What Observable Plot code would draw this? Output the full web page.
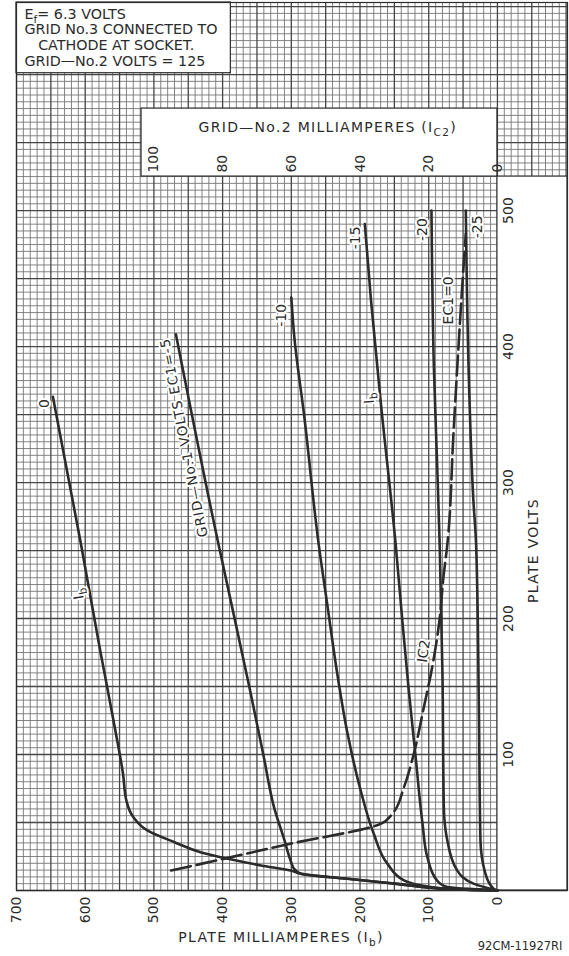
<!DOCTYPE html>
<html><head><meta charset="utf-8">
<script src="https://cdn.jsdelivr.net/npm/d3@7"></script>
<script src="https://cdn.jsdelivr.net/npm/@observablehq/plot@0.6"></script>
<style>
html,body{margin:0;padding:0;background:#fff;}
#chart svg text{font-family:"DejaVu Sans",sans-serif;}
</style></head>
<body><div id="chart"></div>
<script>
// ---- data: [plate volts, plate mA] ----
const ec1_0   = [[363,647],[257,607],[176,578],[120,557],[86,545],[66,540],[54,530],[44,509],[35.5,470],[28,431],[23.3,392],[18.4,344],[14.7,301],[12.3,286],[8.6,218],[4.9,146],[1.2,73],[0,0]];
const ec1_m5  = [[409,468],[257,407],[208,386],[147,360],[98,340],[61,325],[37,310],[22,301],[16,296],[12.3,286],[8.6,218],[4.9,146],[1.2,73],[0,0]];
const ec1_m10 = [[436,300],[409,296],[348,281],[254,260],[208,247],[159,233],[115,218],[73.5,199],[41.7,180],[19.6,160],[7.4,136],[3.5,108],[1.2,70],[0,0]];
const ec1_m15 = [[490,193],[434,184],[360,170],[254,148],[196,138],[147,129],[98,119],[49,109],[24.5,102],[7.4,88],[2.5,73],[0,0]];
const ec1_m20 = [[500,96],[385,92.5],[311,87.6],[254,84],[159,80],[61,78],[37,73],[14.7,58.5],[4.9,34],[0,0]];
const ec1_m25 = [[500,46],[385,42],[287,35],[254,31],[135,27],[37,24.7],[12.3,17.4],[1.2,5.3],[0,0]];
// grid-No.2 current for Ec1 = 0: [plate volts, Ic2 mA]
const ic2_ec1_0 = [[14.7,95],[24,78.4],[34,61],[49,34],[56.4,30.6],[76,27.2],[100,24.4],[135,21.4],[164,19],[196,17],[233,15.6],[254,14.6],[336,12.8],[397,11.4],[446,10.2],[483,9.2]];

const ibTicks   = [700,600,500,400,300,200,100,0];
const voltTicks = [100,200,300,400,500];
const ic2Ticks  = [100,80,60,40,20,0];
const infoLines = ["E_f= 6.3 VOLTS","GRID No.3 CONNECTED TO","\u00a0\u00a0\u00a0CATHODE AT SOCKET.","GRID—No.2 VOLTS = 125"];

// ---- layout ----
const IC2_SCALE = 5; // Ic2 axis: 100 mA aligns with Ib 500 mA
const series = [
  {grid:"0", pts:ec1_0},{grid:"-5", pts:ec1_m5},{grid:"-10", pts:ec1_m10},
  {grid:"-15", pts:ec1_m15},{grid:"-20", pts:ec1_m20},{grid:"-25", pts:ec1_m25}
];
const rows = series.flatMap(s => s.pts.map(([v, ib]) => ({v, ib, grid: s.grid})));

const curveLabels = [
  {label:"0", ib:659, v:358, angle:-90},
  {label:"-10", ib:314, v:423, angle:-90},
  {label:"-15", ib:206, v:480, angle:-90},
  {label:"-20", ib:109, v:486, angle:-90},
  {label:"-25", ib:29, v:488, angle:-90},
  {label:"I_b", ib:610, v:218, angle:-100},
  {label:"I_b", ib:187, v:362, angle:-95},
  {label:"EC1=0", ib:71, v:434, angle:-90},
  {label:"IC2", ib:107, v:176, angle:-82}
];
const longLabel = [{label:"GRID—No.1 VOLTS EC1=-5", ib:456, v:333, angle:-101}];

const infoBox  = {x1:700, x2:388, y1:601, y2:653};
const ic2Box   = {x1:518, x2:0, y1:525, y2:575};
const sidePanel= {x1:0, x2:-102, y1:0, y2:525};

const minorX = d3.range(-100, 701, 10).filter(v => v % 50 !== 0);
const majorX = d3.range(-100, 701, 50);
const minorY = d3.range(0, 651, 5).filter(v => v % 50 !== 0);
const majorY = d3.range(0, 651, 50);

const ink = "#2b2b2b";

const chart = Plot.plot({
  width: 569, height: 956,
  marginLeft: 16, marginRight: 2, marginTop: 2, marginBottom: 66,
  x: {domain: [700, -102], axis: null},
  y: {domain: [0, 653], axis: null},
  marks: [
    Plot.ruleX(minorX, {stroke:"#767676", strokeWidth:0.9}),
    Plot.ruleY(minorY, {stroke:"#767676", strokeWidth:0.9}),
    Plot.ruleX(majorX, {stroke:"#454545", strokeWidth:1.3}),
    Plot.ruleY(majorY, {stroke:"#454545", strokeWidth:1.3}),
    Plot.rect([infoBox], {x1:"x1", x2:"x2", y1:"y1", y2:"y2", fill:"white", stroke:ink, strokeWidth:1.2}),
    Plot.rect([ic2Box], {x1:"x1", x2:"x2", y1:"y1", y2:"y2", fill:"white", stroke:ink, strokeWidth:1.2}),
    Plot.rect([sidePanel], {x1:"x1", x2:"x2", y1:"y1", y2:"y2", fill:"white", stroke:ink, strokeWidth:1.2}),
    Plot.frame({stroke:ink, strokeWidth:1.2}),
    Plot.line(rows, {x:"ib", y:"v", z:"grid", curve:"monotone-y", stroke:ink, strokeWidth:2.6}),
    Plot.line(ic2_ec1_0, {x:d => d[1]*IC2_SCALE, y:d => d[0], curve:"monotone-y", stroke:ink, strokeWidth:2.6, strokeDasharray:"20,6"}),
    Plot.text(curveLabels, {x:"ib", y:"v", text:"label", rotate:"angle", fontSize:14, fill:ink, stroke:"white", strokeWidth:4, lineAnchor:"middle"}),
    Plot.text(longLabel, {x:"ib", y:"v", text:"label", rotate:"angle", fontSize:13.5, fill:ink, stroke:"white", strokeWidth:4, lineAnchor:"middle"}),
    // info box
    Plot.text([infoLines.join("\n")], {x:infoBox.x1, y:infoBox.y2, dx:8, dy:5, textAnchor:"start", lineAnchor:"top", lineHeight:1.1, fontSize:14.3, fill:ink}),
    // Ic2 axis
    Plot.text(["GRID—No.2 MILLIAMPERES (I_{C2})"], {x:247, y:ic2Box.y2, dy:19, fontSize:14, fill:ink, lineAnchor:"middle"}),
    Plot.text(ic2Ticks, {x:d => d*IC2_SCALE, y:ic2Box.y1, dy:-4, text:d => String(d), rotate:-90, textAnchor:"start", lineAnchor:"middle", fontSize:14, fill:ink}),
    // plate mA axis
    Plot.text(ibTicks, {x:d => d, y:0, dy:6, text:d => String(d), rotate:-90, textAnchor:"end", lineAnchor:"middle", fontSize:14, fill:ink}),
    Plot.text(["PLATE MILLIAMPERES (I_b)"], {x:315, y:0, dy:47, fontSize:14, fill:ink, lineAnchor:"middle"}),
    Plot.text(["92CM-11927RI"], {x:-33, y:0, dy:56, fontSize:11.5, fill:ink, lineAnchor:"middle"}),
    // plate volts axis
    Plot.text(voltTicks, {x:0, y:d => d, dx:11, text:d => String(d), rotate:-90, lineAnchor:"middle", fontSize:14, fill:ink}),
    Plot.text(["PLATE VOLTS"], {x:0, y:250, dx:36, rotate:-90, lineAnchor:"middle", fontSize:14, fill:ink})
  ]
});

// subscripts: "_x" or "_{xy}"
const NS = "http://www.w3.org/2000/svg";
chart.querySelectorAll("text, tspan").forEach(el => {
  if (el.children.length) return;
  const s = el.textContent;
  if (!s.includes("_")) return;
  const parts = s.split(/_\{([^}]*)\}|_(\w)/);
  el.textContent = "";
  let shifted = false;
  for (let i = 0; i < parts.length; i += 3) {
    const t = parts[i];
    if (t) {
      const sp = document.createElementNS(NS, "tspan");
      sp.textContent = t;
      if (shifted) { sp.setAttribute("dy", "-4"); shifted = false; }
      el.appendChild(sp);
    }
    if (i + 1 < parts.length) {
      const sub = parts[i+1] !== undefined ? parts[i+1] : parts[i+2];
      const sp = document.createElementNS(NS, "tspan");
      sp.textContent = sub;
      sp.setAttribute("dy", "4");
      sp.setAttribute("font-size", "0.75em");
      el.appendChild(sp);
      shifted = true;
    }
  }
});
// letter spacing for the lettered titles
chart.querySelectorAll("text").forEach(el => {
  const s = el.textContent;
  if (s.startsWith("PLATE") || s.startsWith("GRID—No.2 MILL")) el.style.letterSpacing = "1.3px";
  if (s.startsWith("GRID—No.1")) el.style.letterSpacing = "1px";
});
document.getElementById("chart").appendChild(chart);
</script>
</body></html>
